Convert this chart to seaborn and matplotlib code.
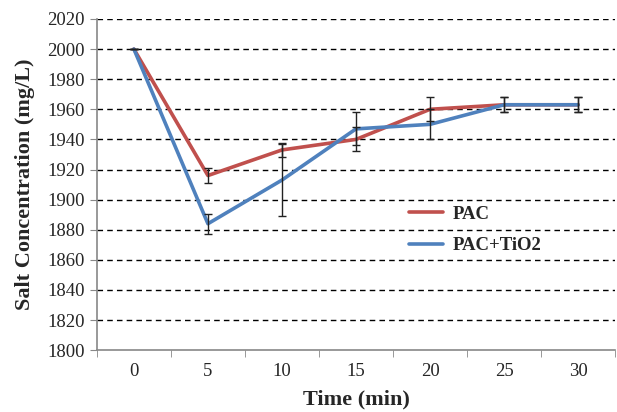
import numpy as np
import pandas as pd
import matplotlib.pyplot as plt
import seaborn as sns

time_labels = ["0", "5", "10", "15", "20", "25", "30"]
pac = [2000, 1916, 1933, 1940, 1960, 1963, 1963]
pac_err = [0, 5, 4.5, 8, 8, 5, 5]
pac_tio2 = [2000, 1884, 1913, 1947, 1950, 1963, 1963]
pac_tio2_err = [0, 6.5, 24, 11, 10, 5, 5]

df = pd.DataFrame({
    "time": time_labels * 2,
    "salt": pac + pac_tio2,
    "series": ["PAC"] * 7 + ["PAC+TiO2"] * 7,
})

sns.set_style("white")
plt.rcParams["font.family"] = ["Liberation Serif", "DejaVu Serif"]

fig = plt.figure(figsize=(6.17, 4.12), dpi=100)
ax = fig.add_axes([0.157, 0.150, 0.840, 0.804])

palette = {"PAC": "#C0504D", "PAC+TiO2": "#4F81BD"}
sns.lineplot(data=df, x="time", y="salt", hue="series", palette=palette,
             linewidth=2.6, ax=ax, sort=False, zorder=3)

pos = np.arange(len(time_labels))
ax.errorbar(pos, pac, yerr=pac_err, fmt="none", ecolor="#222222",
            elinewidth=1, capsize=3, capthick=1, zorder=4)
ax.errorbar(pos, pac_tio2, yerr=pac_tio2_err, fmt="none", ecolor="#222222",
            elinewidth=1, capsize=3, capthick=1, zorder=4)

ax.set_ylim(1800, 2020)
ax.set_yticks(np.arange(1800, 2021, 20))
ax.set_xlim(-0.5, len(time_labels) - 0.5)
ax.set_xticks(pos)
ax.set_xticklabels(time_labels)
ax.set_xticks(np.arange(-0.5, len(time_labels)), minor=True)
ax.tick_params(axis="x", which="major", length=0, labelsize=13.5, pad=9)
ax.tick_params(axis="x", which="minor", length=5, color="#888888", direction="out")
ax.tick_params(axis="y", length=5, color="#888888", direction="out", labelsize=13.5)
ax.xaxis.set_ticks_position("bottom")
ax.yaxis.set_ticks_position("left")

for y in np.arange(1820, 2021, 20):
    ax.axhline(y, color="black", linestyle=(0, (4, 3)), linewidth=1, zorder=1)

for s in ["top", "right"]:
    ax.spines[s].set_visible(False)
for s in ["left", "bottom"]:
    ax.spines[s].set_color("#888888")
    ax.spines[s].set_linewidth(1.2)

ax.set_xlabel("Time (min)", fontsize=16, fontweight="bold", labelpad=7)
ax.set_ylabel("Salt Concentration (mg/L)", fontsize=16, fontweight="bold", labelpad=9)

leg = ax.legend(loc="upper left", bbox_to_anchor=(0.57, 0.487), frameon=False,
                prop={"size": 13.5, "weight": "bold"}, handlelength=1.8,
                handletextpad=0.5, labelspacing=0.75)
for line in leg.get_lines():
    line.set_linewidth(2.6)

plt.savefig("out.png", dpi=100)
plt.close()
